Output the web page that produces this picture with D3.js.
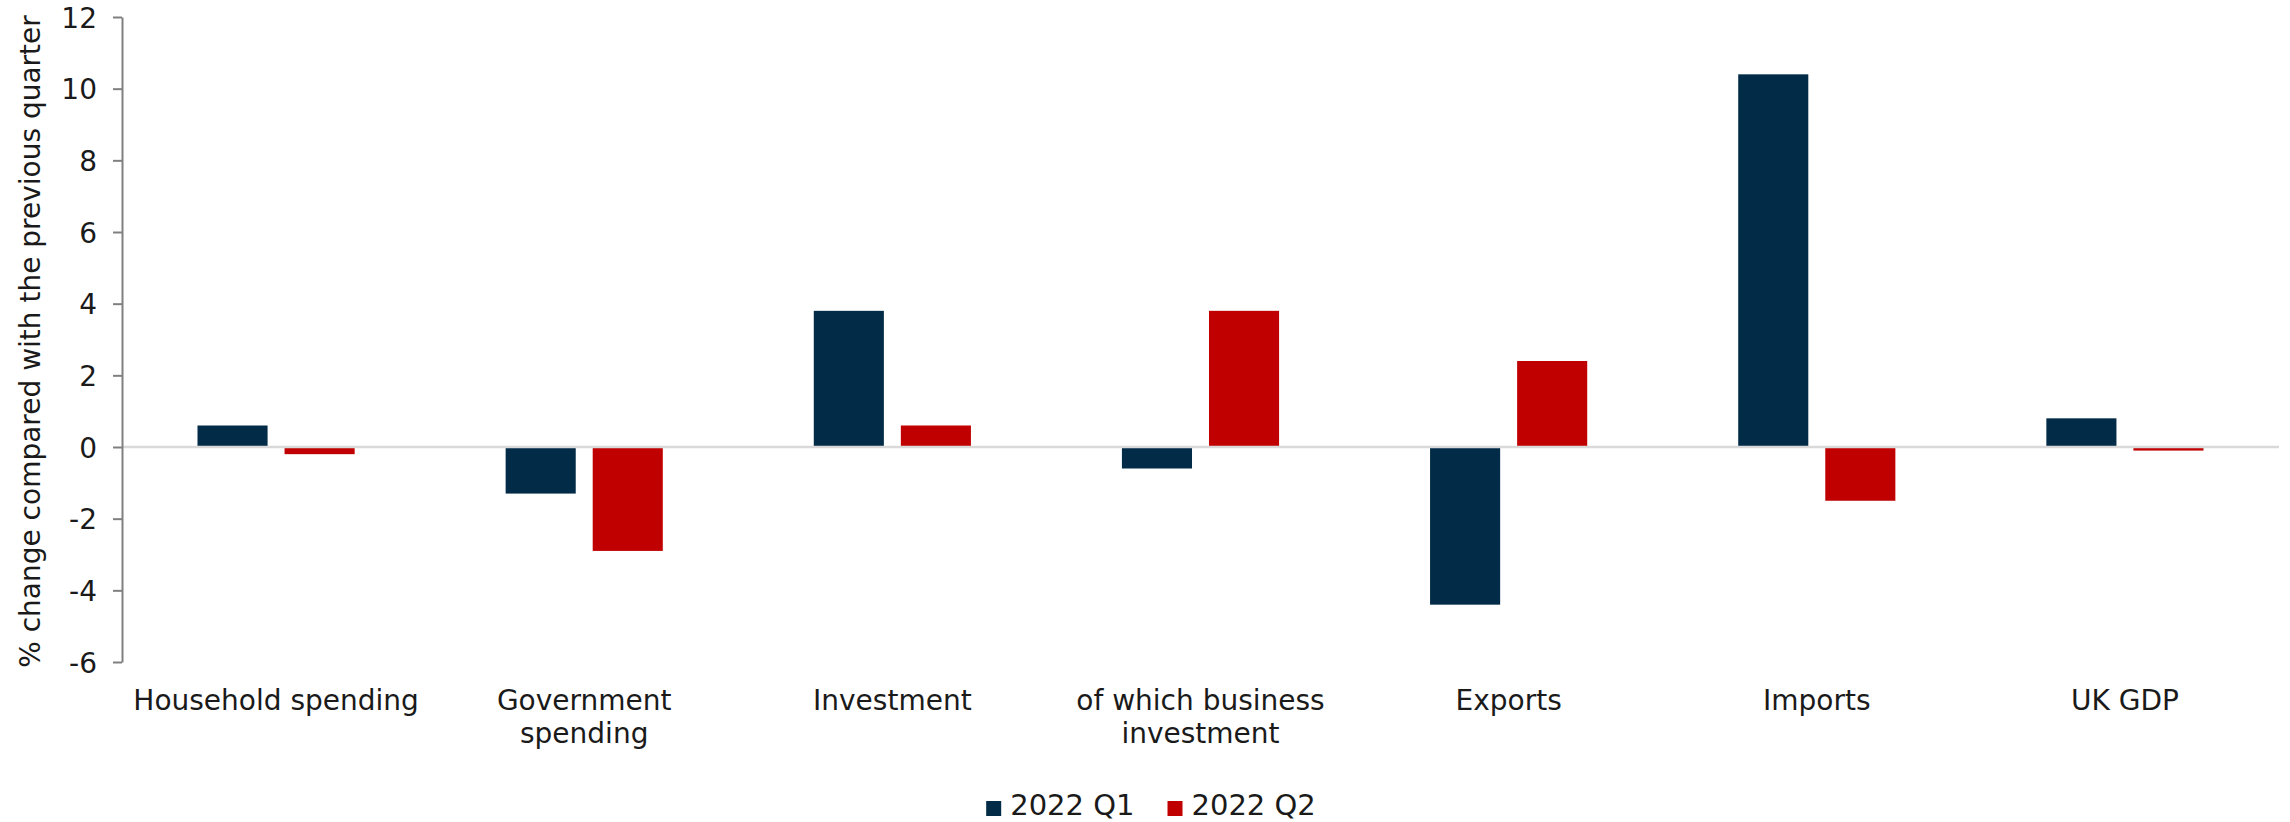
<!DOCTYPE html>
<html>
<head>
<meta charset="utf-8">
<script src="https://cdn.jsdelivr.net/npm/d3@7"></script>
<style>
  html, body { margin: 0; padding: 0; background: #ffffff; }
  svg { display: block; }
  text { font-family: "DejaVu Sans", sans-serif; fill: #1a1a1a; }
</style>
</head>
<body>
<svg id="chart" width="2290" height="822"></svg>
<script>
// Components of UK GDP, quarter-on-quarter % change
const categories = [
  ["Household spending"],
  ["Government", "spending"],
  ["Investment"],
  ["of which business", "investment"],
  ["Exports"],
  ["Imports"],
  ["UK GDP"]
];
const seriesNames = ["2022 Q1", "2022 Q2"];
const q1Values = [0.6, -1.3, 3.8, -0.6, -4.4, 10.4, 0.8];
const q2Values = [-0.2, -2.9, 0.6, 3.8, 2.4, -1.5, -0.1];
const yTicks = [-6, -4, -2, 0, 2, 4, 6, 8, 10, 12];
const seriesColors = ["#022b47", "#c00000"];
const yTitle = "% change compared with the previous quarter";

const svg = d3.select("#chart");
const plotLeft = 122, plotRight = 2279, plotTop = 17, plotBottom = 662;

const catKeys = categories.map(c => c.join(" "));
const x0 = d3.scaleBand()
  .domain(catKeys)
  .range([plotLeft, plotRight])
  .paddingInner(0.49)
  .paddingOuter(0.245);
const x1 = d3.scaleBand()
  .domain(seriesNames)
  .range([0, x0.bandwidth()])
  .paddingInner(0.195);
const y = d3.scaleLinear().domain([-6, 12]).range([plotBottom, plotTop]);

const rows = catKeys.map((k, i) => ({ key: k, values: [q1Values[i], q2Values[i]] }));

// bars
const groups = svg.append("g").selectAll("g")
  .data(rows).join("g")
  .attr("transform", d => `translate(${x0(d.key)},0)`);
groups.selectAll("rect")
  .data(d => d.values.map((v, j) => ({ s: seriesNames[j], v, j })))
  .join("rect")
  .attr("x", d => x1(d.s))
  .attr("width", x1.bandwidth())
  .attr("y", d => y(Math.max(0, d.v)))
  .attr("height", d => Math.abs(y(d.v) - y(0)))
  .attr("fill", d => seriesColors[d.j]);

// zero line
svg.append("line")
  .attr("x1", plotLeft).attr("x2", plotRight)
  .attr("y1", y(0)).attr("y2", y(0))
  .attr("stroke", "#d9d9d9").attr("stroke-width", 2.5);

// y axis (plain hyphen for negatives)
const yAxis = svg.append("g")
  .attr("transform", `translate(${plotLeft},0)`)
  .call(d3.axisLeft(y).tickValues(yTicks).tickFormat(d => String(d))
    .tickSize(9).tickPadding(16).tickSizeOuter(0));
yAxis.select(".domain").attr("stroke", "#808080").attr("stroke-width", 2);
yAxis.selectAll(".tick line").attr("stroke", "#808080").attr("stroke-width", 2);
yAxis.selectAll(".tick text")
  .attr("font-family", "DejaVu Sans, sans-serif")
  .attr("font-size", 28)
  .attr("fill", "#1a1a1a")
  .attr("dy", "0.36em");

// y title
svg.append("text")
  .attr("transform", `translate(40,${(plotTop + plotBottom) / 2 + 2}) rotate(-90)`)
  .attr("text-anchor", "middle")
  .attr("font-size", 28)
  .text(yTitle);

// category labels
const catLabels = svg.append("g").selectAll("text")
  .data(categories).join("text")
  .attr("text-anchor", "middle")
  .attr("font-size", 28)
  .attr("x", d => x0(d.join(" ")) + x0.bandwidth() / 2)
  .attr("y", 710);
catLabels.selectAll("tspan")
  .data(d => d).join("tspan")
  .attr("x", function () { return d3.select(this.parentNode).attr("x"); })
  .attr("dy", (d, i) => i === 0 ? 0 : 32.5)
  .text(d => d);

// legend
const legend = svg.append("g");
const items = legend.selectAll("g").data(seriesNames).join("g");
items.append("rect")
  .attr("width", 15).attr("height", 15)
  .attr("y", 801)
  .attr("fill", (d, i) => seriesColors[i]);
items.append("text")
  .attr("x", 24).attr("y", 815)
  .attr("font-size", 29)
  .text(d => d);
const widths = [];
items.each(function () { widths.push(24 + this.querySelector("text").getComputedTextLength()); });
const gap = 33;
const total = d3.sum(widths) + gap * (widths.length - 1);
let cx = 1151 - total / 2;
items.attr("transform", (d, i) => {
  const t = `translate(${cx},0)`;
  cx += widths[i] + gap;
  return t;
});
</script>
</body>
</html>
